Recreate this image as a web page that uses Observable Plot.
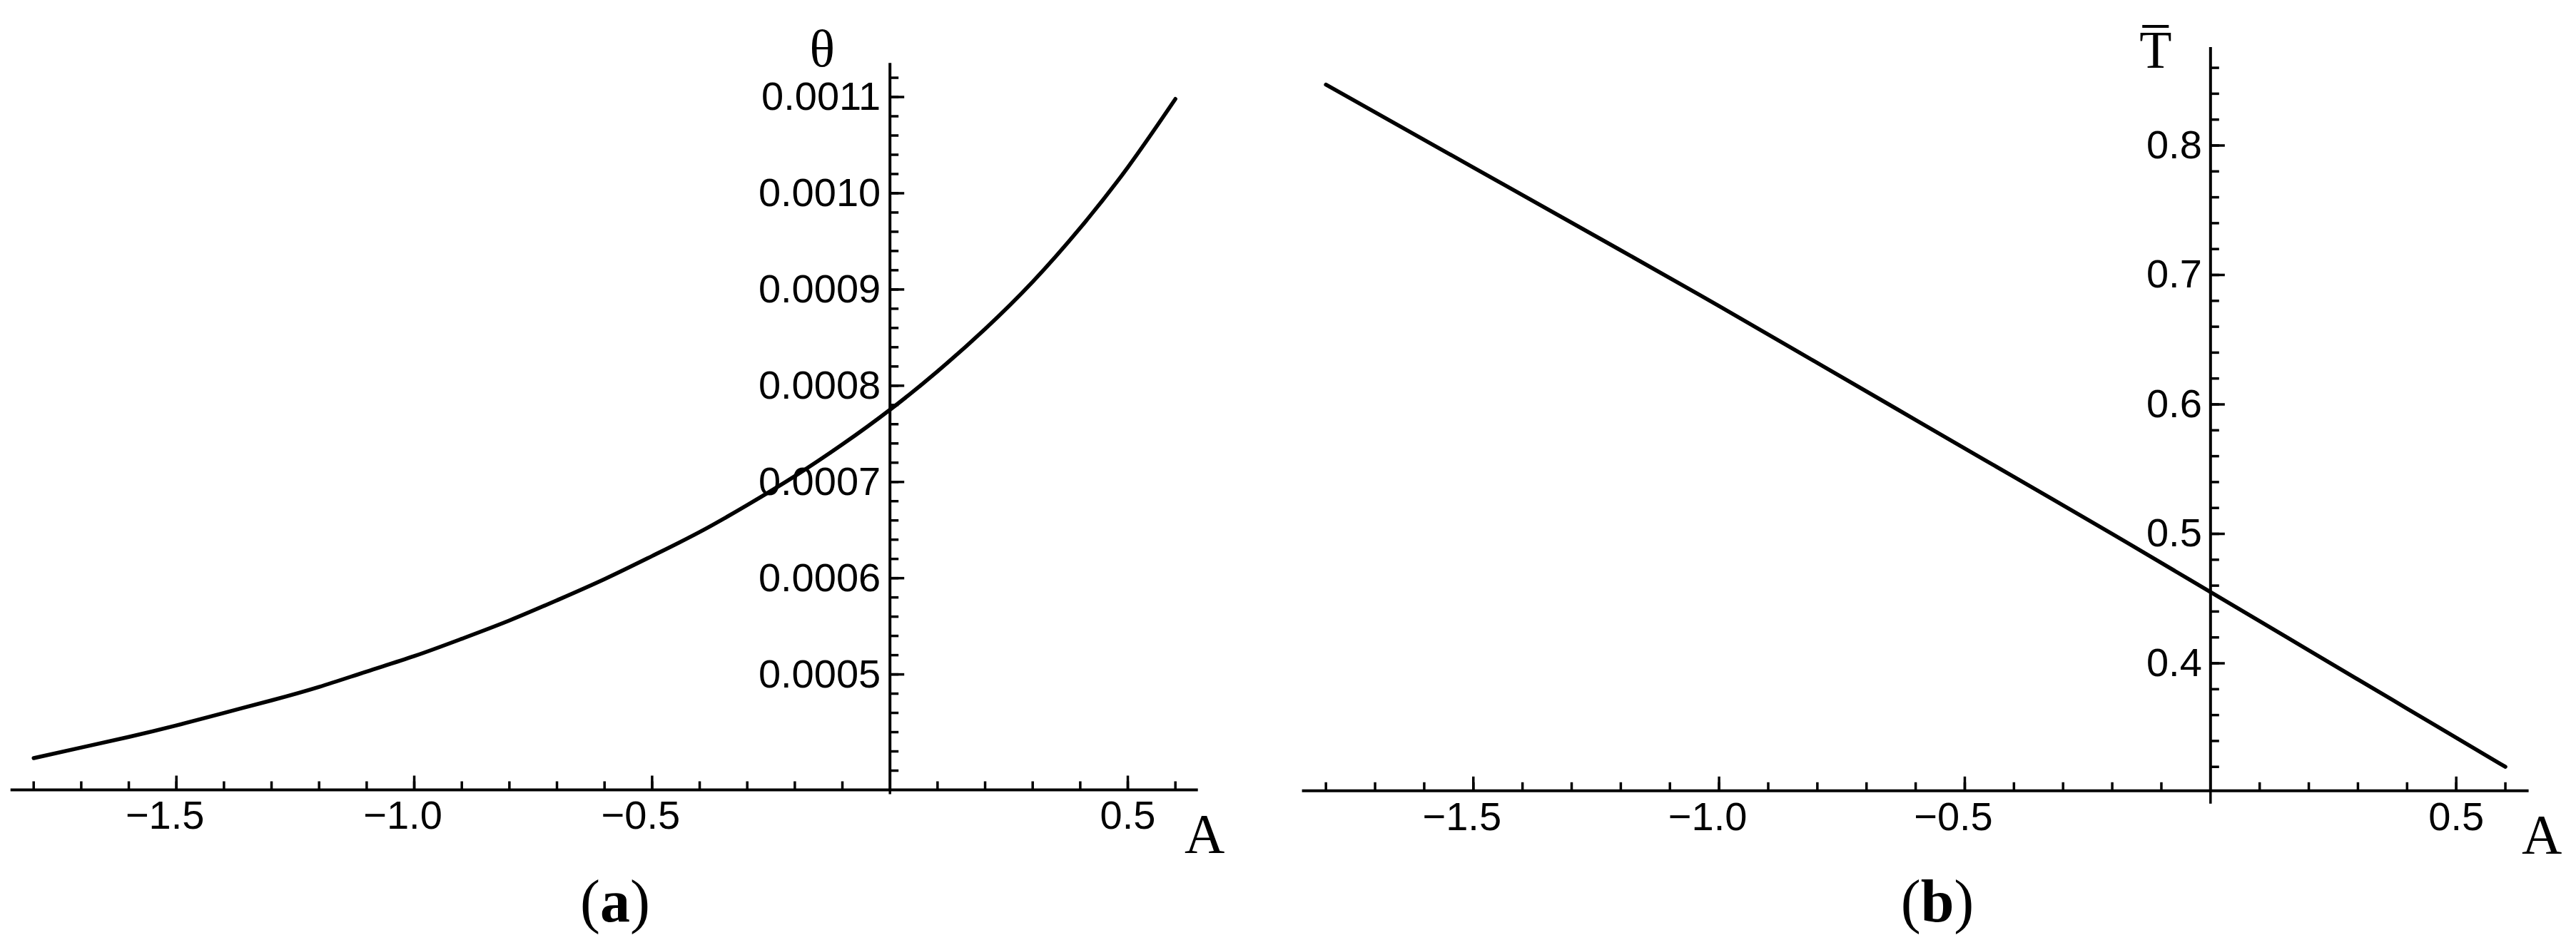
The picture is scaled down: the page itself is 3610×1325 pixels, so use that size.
<!DOCTYPE html>
<html>
<head>
<meta charset="utf-8">
<script src="https://cdn.jsdelivr.net/npm/d3@7"></script>
<script src="https://cdn.jsdelivr.net/npm/@observablehq/plot@0.6"></script>
<style>
  html, body { margin: 0; padding: 0; background: #fff; }
  #wrap { position: relative; width: 3610px; height: 1325px; background: #fff; overflow: hidden; }
  .panel { position: absolute; top: 0; }
  .cap { position: absolute; font-family: "Liberation Serif", "Times New Roman", serif; font-size: 84px; line-height: 1; transform: translateX(-50%); color: #000; white-space: nowrap; }
</style>
</head>
<body>
<div id="wrap">
  <div id="pa" class="panel" style="left:0px"></div>
  <div id="pb" class="panel" style="left:1780px"></div>
  <div class="cap" style="left:862px; top:1222px">(<b>a</b>)</div>
  <div class="cap" style="left:2715px; top:1222px">(<b>b</b>)</div>
</div>
<script>
// ---- data: panel (a) ----
const A_a = [-1.8, -1.7, -1.6, -1.5, -1.4, -1.3, -1.2, -1.1, -1.0, -0.9, -0.8, -0.7, -0.6, -0.5, -0.4, -0.3, -0.2, -0.1, 0.0, 0.1, 0.2, 0.3, 0.4, 0.5, 0.6];
const theta = [0.000413, 0.000424, 0.000435, 0.000447, 0.000460, 0.000473, 0.000487, 0.000503, 0.000519, 0.000537, 0.000556, 0.000577, 0.000599, 0.000623, 0.000648, 0.000676, 0.000706, 0.000739, 0.000775, 0.000815, 0.000859, 0.000908, 0.000964, 0.001027, 0.001098];

// ---- data: panel (b) ----
const A_b = [-1.8, -1.5, -1.2, -1.0, -0.8, -0.6, -0.4, -0.2, 0.0, 0.2, 0.4, 0.6];
const Tbar = [0.847, 0.783, 0.719, 0.676, 0.632, 0.588, 0.544, 0.500, 0.455, 0.410, 0.365, 0.320];

// ---- ticks ----
const xAllTicks = [-1.8, -1.7, -1.6, -1.5, -1.4, -1.3, -1.2, -1.1, -1.0, -0.9, -0.8, -0.7, -0.6, -0.5, -0.4, -0.3, -0.2, -0.1, 0.1, 0.2, 0.3, 0.4, 0.5, 0.6];
const xMajorTicks = [-1.5, -1.0, -0.5, 0.5];
const xMajorLabels = ["−1.5", "−1.0", "−0.5", "0.5"];

const thetaAllTicks = [0.00040, 0.00042, 0.00044, 0.00046, 0.00048, 0.00050, 0.00052, 0.00054, 0.00056, 0.00058, 0.00060, 0.00062, 0.00064, 0.00066, 0.00068, 0.00070, 0.00072, 0.00074, 0.00076, 0.00078, 0.00080, 0.00082, 0.00084, 0.00086, 0.00088, 0.00090, 0.00092, 0.00094, 0.00096, 0.00098, 0.00100, 0.00102, 0.00104, 0.00106, 0.00108, 0.00110, 0.00112];
const thetaMajorTicks = [0.0005, 0.0006, 0.0007, 0.0008, 0.0009, 0.0010, 0.0011];
const thetaMajorLabels = ["0.0005", "0.0006", "0.0007", "0.0008", "0.0009", "0.0010", "0.0011"];

const tbarAllTicks = [0.32, 0.34, 0.36, 0.38, 0.40, 0.42, 0.44, 0.46, 0.48, 0.50, 0.52, 0.54, 0.56, 0.58, 0.60, 0.62, 0.64, 0.66, 0.68, 0.70, 0.72, 0.74, 0.76, 0.78, 0.80, 0.82, 0.84, 0.86];
const tbarMajorTicks = [0.4, 0.5, 0.6, 0.7, 0.8];
const tbarMajorLabels = ["0.4", "0.5", "0.6", "0.7", "0.8"];

const SANS = "Liberation Sans, Arial, Helvetica, sans-serif";
const SERIF = "Liberation Serif, DejaVu Serif, Times New Roman, serif";

function panel(cfg) {
  const [yMin, yMax] = cfg.yDomain;
  const xLab = xMajorTicks.map((v, i) => ({v, t: xMajorLabels[i]}));
  const yLab = cfg.yMajor.map((v, i) => ({v, t: cfg.yLabels[i]}));
  const tick = {r: 0, anchor: "start", stroke: "black", strokeWidth: 3.5, strokeLinecap: "butt"};
  return Plot.plot({
    width: cfg.width,
    height: 1210,
    marginLeft: cfg.ml, marginRight: cfg.mr, marginTop: cfg.mt, marginBottom: cfg.mb,
    x: {domain: [-1.848, 0.648], axis: null},
    y: {domain: cfg.yDomain, axis: null},
    style: {background: "white", color: "black", fontFamily: SANS, overflow: "visible"},
    marks: [
      // axes lines
      Plot.ruleY([yMin], {stroke: "black", strokeWidth: 4}),
      Plot.ruleX([0], {y1: yMin, y2: yMax, stroke: "black", strokeWidth: 4}),
      Plot.vector([0], {x: d => d, y: () => yMin, length: cfg.zeroTick, rotate: 180, ...tick}),
      // x ticks
      Plot.vector(xAllTicks, {x: d => d, y: () => yMin, length: 12, rotate: 0, ...tick}),
      Plot.vector(xMajorTicks, {x: d => d, y: () => yMin, length: 20, rotate: 0, ...tick}),
      // y ticks
      Plot.vector(cfg.yAll, {x: () => 0, y: d => d, length: 12, rotate: 90, ...tick}),
      Plot.vector(cfg.yMajor, {x: () => 0, y: d => d, length: 20, rotate: 90, ...tick}),
      // x tick labels (negative numbers hang the minus sign to the left)
      Plot.text(xLab.filter(d => d.v < 0), {x: "v", y: () => yMin, text: "t", dy: 15, dx: -16, lineAnchor: "top", fontSize: 56, fontFamily: SANS, fill: "black"}),
      Plot.text(xLab.filter(d => d.v > 0), {x: "v", y: () => yMin, text: "t", dy: 15, lineAnchor: "top", fontSize: 56, fontFamily: SANS, fill: "black"}),
      // y tick labels
      Plot.text(yLab, {x: () => 0, y: "v", text: "t", textAnchor: "end", dx: cfg.ylDx, lineAnchor: "middle", fontSize: 56, fontFamily: SANS, fill: "black"}),
      // the curve
      Plot.line(cfg.xs, {x: cfg.xs, y: cfg.ys, stroke: "black", strokeWidth: 5.5, curve: "natural"}),
      // axis names
      Plot.text(["A"], {x: () => 0.648, y: () => yMin, dx: cfg.aDx, dy: 87, lineAnchor: "bottom", fontSize: 78, fontFamily: SERIF, fill: "black"}),
      Plot.text([cfg.yName], {x: () => 0, y: () => yMax, text: d => d, dx: cfg.nDx, dy: cfg.nDy, lineAnchor: "bottom", fontSize: 74, fontFamily: SERIF, fill: "black"})
    ]
  });
}

document.getElementById("pa").append(panel({
  width: 1780, ml: 14.7, mr: 101.3, mt: 88.3, mb: 103,
  yDomain: [0.00038, 0.001135],
  yAll: thetaAllTicks, yMajor: thetaMajorTicks, yLabels: thetaMajorLabels,
  xs: A_a, ys: theta, ylDx: -13, aDx: 9, zeroTick: 6,
  yName: "θ", nDx: -95, nDy: 4
}));

document.getElementById("pb").append(panel({
  width: 1830, ml: 44.6, mr: 66.4, mt: 66.1, mb: 101.7,
  yDomain: [0.3015, 0.8757],
  yAll: tbarAllTicks, yMajor: tbarMajorTicks, yLabels: tbarMajorLabels,
  xs: A_b, ys: Tbar, ylDx: -12, aDx: 18, zeroTick: 18,
  yName: "T\u0305", nDx: -77, nDy: 28
}));
</script>
</body>
</html>
